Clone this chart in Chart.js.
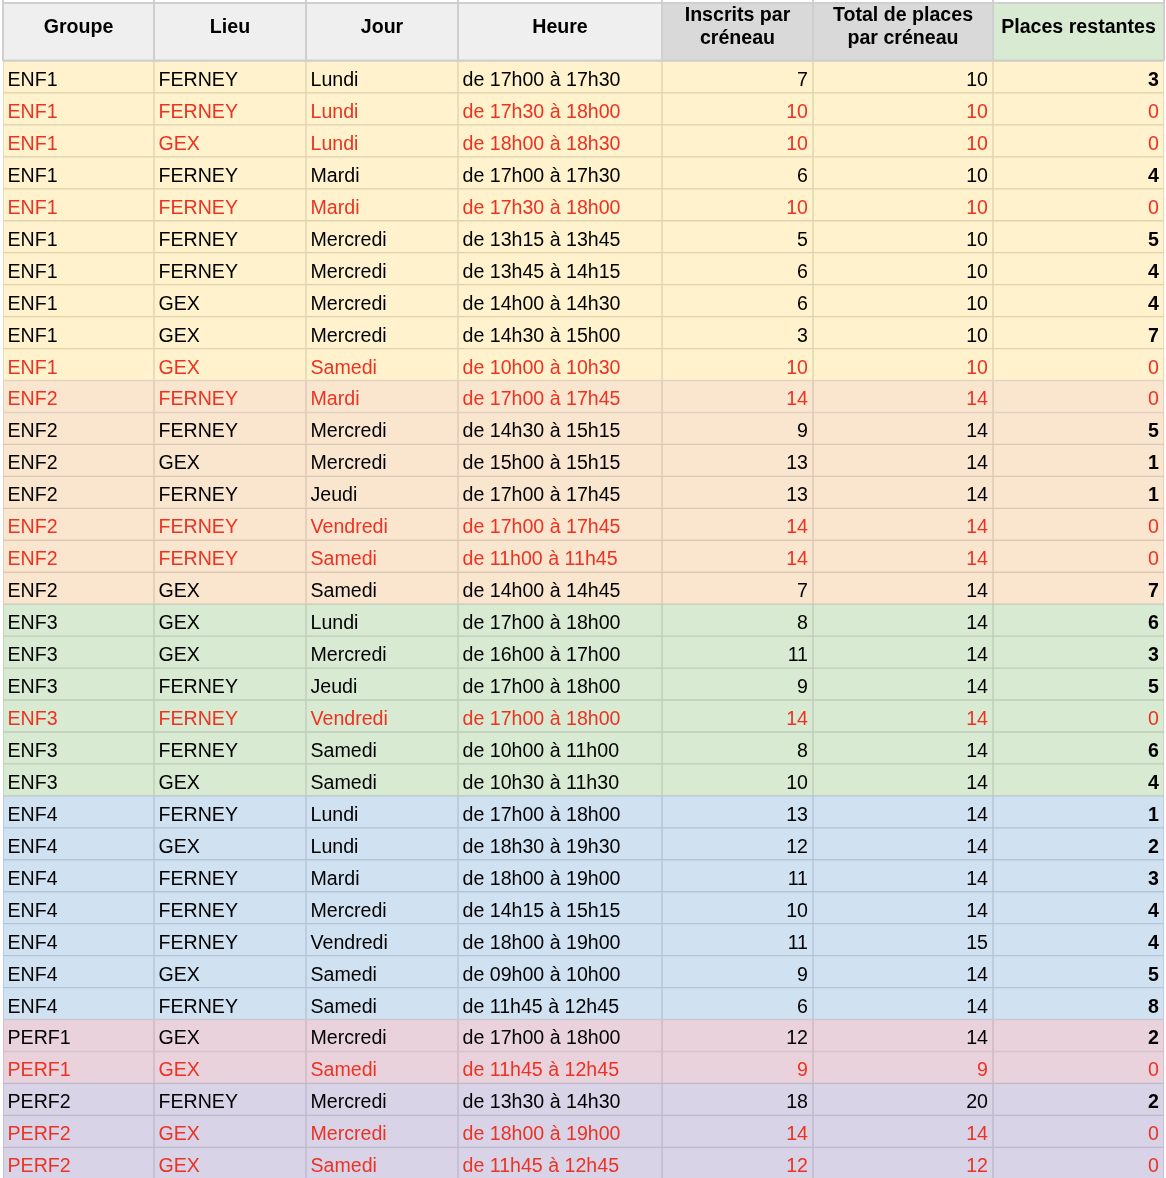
<!DOCTYPE html>
<html>
<head>
<meta charset="utf-8">
<script src="https://cdn.jsdelivr.net/npm/chart.js@4.4.1/dist/chart.umd.min.js"></script>
<style>
  html, body { margin: 0; padding: 0; background: #ffffff; }
  canvas { display: block; }
</style>
</head>
<body>
<canvas id="c" width="1166" height="1178"></canvas>
<script>
// ---------- DATA ----------
const headers = [['Groupe'], ['Lieu'], ['Jour'], ['Heure'], ['Inscrits par', 'créneau'], ['Total de places', 'par créneau'], ['Places restantes']];

const groupes = ['ENF1','ENF1','ENF1','ENF1','ENF1','ENF1','ENF1','ENF1','ENF1','ENF1',
  'ENF2','ENF2','ENF2','ENF2','ENF2','ENF2','ENF2',
  'ENF3','ENF3','ENF3','ENF3','ENF3','ENF3',
  'ENF4','ENF4','ENF4','ENF4','ENF4','ENF4','ENF4',
  'PERF1','PERF1',
  'PERF2','PERF2','PERF2'];

const lieux = ['FERNEY','FERNEY','GEX','FERNEY','FERNEY','FERNEY','FERNEY','GEX','GEX','GEX',
  'FERNEY','FERNEY','GEX','FERNEY','FERNEY','FERNEY','GEX',
  'GEX','GEX','FERNEY','FERNEY','FERNEY','GEX',
  'FERNEY','GEX','FERNEY','FERNEY','FERNEY','GEX','FERNEY',
  'GEX','GEX',
  'FERNEY','GEX','GEX'];

const jours = ['Lundi','Lundi','Lundi','Mardi','Mardi','Mercredi','Mercredi','Mercredi','Mercredi','Samedi',
  'Mardi','Mercredi','Mercredi','Jeudi','Vendredi','Samedi','Samedi',
  'Lundi','Mercredi','Jeudi','Vendredi','Samedi','Samedi',
  'Lundi','Lundi','Mardi','Mercredi','Vendredi','Samedi','Samedi',
  'Mercredi','Samedi',
  'Mercredi','Mercredi','Samedi'];

const heures = ['de 17h00 à 17h30','de 17h30 à 18h00','de 18h00 à 18h30','de 17h00 à 17h30','de 17h30 à 18h00',
  'de 13h15 à 13h45','de 13h45 à 14h15','de 14h00 à 14h30','de 14h30 à 15h00','de 10h00 à 10h30',
  'de 17h00 à 17h45','de 14h30 à 15h15','de 15h00 à 15h15','de 17h00 à 17h45','de 17h00 à 17h45',
  'de 11h00 à 11h45','de 14h00 à 14h45',
  'de 17h00 à 18h00','de 16h00 à 17h00','de 17h00 à 18h00','de 17h00 à 18h00','de 10h00 à 11h00','de 10h30 à 11h30',
  'de 17h00 à 18h00','de 18h30 à 19h30','de 18h00 à 19h00','de 14h15 à 15h15','de 18h00 à 19h00',
  'de 09h00 à 10h00','de 11h45 à 12h45',
  'de 17h00 à 18h00','de 11h45 à 12h45',
  'de 13h30 à 14h30','de 18h00 à 19h00','de 11h45 à 12h45'];

const inscrits = [7,10,10,6,10,5,6,6,3,10,
  14,9,13,13,14,14,7,
  8,11,9,14,8,10,
  13,12,11,10,11,9,6,
  12,9,
  18,14,12];

const totalPlaces = [10,10,10,10,10,10,10,10,10,10,
  14,14,14,14,14,14,14,
  14,14,14,14,14,14,
  14,14,14,14,15,14,14,
  14,9,
  20,14,12];

const restantes = [3,0,0,4,0,5,4,4,7,0,
  0,5,1,1,0,0,7,
  6,3,5,0,6,4,
  1,2,3,4,4,5,8,
  2,0,
  2,0,0];

// ---------- LAYOUT / STYLE ----------
const colWidths = [151, 152, 152, 204, 151, 180, 171];
const groupFill = { ENF1: '#fff2cc', ENF2: '#fae5cf', ENF3: '#d9ead3', ENF4: '#d0e1f2', PERF1: '#e9d2dc', PERF2: '#d9d3e8' };
const headerFill = ['#efefef', '#efefef', '#efefef', '#efefef', '#d9d9d9', '#d9d9d9', '#d9ead3'];
const RED = '#ea3323';
const FONT = '"Liberation Sans", Arial, Helvetica, sans-serif';
const FSIZE = '19.6px ';
const Y_MIN = -0.5, Y_MAX = 34.46;

function darken(hex, f) {
  const n = parseInt(hex.slice(1), 16);
  const r = Math.round(((n >> 16) & 255) * f), g = Math.round(((n >> 8) & 255) * f), b = Math.round((n & 255) * f);
  return 'rgb(' + r + ',' + g + ',' + b + ')';
}

const rowIdx = groupes.map((_, i) => i);
const fills = groupes.map(g => groupFill[g]);
const borders = groupes.map(g => darken(groupFill[g], 0.87));

const datasets = colWidths.map((w, k) => ({
  label: headers[k].join(' '),
  data: rowIdx.map(i => ({ x: w, y: i })),
  backgroundColor: fills,
  borderColor: borders,
  borderWidth: 1,
  borderSkipped: false,
  categoryPercentage: 1,
  barPercentage: 1
}));

const colBounds = [0];
colWidths.forEach(w => colBounds.push(colBounds[colBounds.length - 1] + w));
const totalWidth = colBounds[colBounds.length - 1];

const tablePlugin = {
  id: 'tableText',
  afterDatasetsDraw(chart) {
    const ctx = chart.ctx;
    const xs = chart.scales.x, ys = chart.scales.y;
    const top = 3, bottom = chart.chartArea.top;
    const px = colBounds.map(v => xs.getPixelForValue(v));
    ctx.save();
    // header cells
    for (let k = 0; k < colWidths.length; k++) {
      ctx.fillStyle = headerFill[k];
      ctx.fillRect(px[k], top, px[k + 1] - px[k], bottom - top);
    }
    ctx.strokeStyle = '#cfcfcf';
    ctx.lineWidth = 2;
    ctx.beginPath();
    ctx.moveTo(px[0], top); ctx.lineTo(px[px.length - 1], top);
    ctx.moveTo(px[0], bottom - 0.5); ctx.lineTo(px[px.length - 1], bottom - 0.5);
    for (let k = 0; k < px.length; k++) {
      ctx.moveTo(px[k], 0); ctx.lineTo(px[k], bottom);
    }
    ctx.stroke();
    // header text
    ctx.fillStyle = '#000000';
    ctx.font = 'bold ' + FSIZE + FONT;
    ctx.textAlign = 'center';
    ctx.textBaseline = 'alphabetic';
    for (let k = 0; k < headers.length; k++) {
      const cx = (px[k] + px[k + 1]) / 2;
      const lines = headers[k];
      if (lines.length === 1) {
        ctx.fillText(lines[0], cx, 33);
      } else {
        ctx.fillText(lines[0], cx, 21);
        ctx.fillText(lines[1], cx, 44);
      }
    }
    // body text
    const cols = [groupes, lieux, jours, heures, inscrits, totalPlaces, restantes];
    for (let i = 0; i < rowIdx.length; i++) {
      const yc = ys.getPixelForValue(i);
      const base = yc + 9;
      const full = restantes[i] === 0;
      const color = full ? RED : '#000000';
      for (let k = 0; k < cols.length; k++) {
        const txt = String(cols[k][i]);
        const bold = (k === 6 && !full);
        ctx.font = (bold ? 'bold ' : '') + FSIZE + FONT;
        ctx.fillStyle = color;
        if (k < 4) {
          ctx.textAlign = 'left';
          ctx.fillText(txt, px[k] + 4.5, base);
        } else {
          ctx.textAlign = 'right';
          ctx.fillText(txt, px[k + 1] - 5, base);
        }
      }
    }
    ctx.restore();
  }
};

new Chart(document.getElementById('c'), {
  type: 'bar',
  data: { datasets },
  options: {
    indexAxis: 'y',
    responsive: false,
    animation: false,
    events: [],
    layout: { padding: { top: 61, bottom: 0, left: 3, right: 2 } },
    plugins: { legend: { display: false }, tooltip: { enabled: false } },
    scales: {
      x: {
        type: 'linear', stacked: true, min: 0, max: totalWidth, display: false, bounds: 'data', offset: false,
        grid: { display: false, offset: false },
        afterBuildTicks: (scale) => { scale.min = 0; scale.max = totalWidth; }
      },
      y: {
        type: 'linear', stacked: true, reverse: true, min: Y_MIN, max: Y_MAX, display: false, bounds: 'data', offset: false,
        grid: { display: false, offset: false },
        afterBuildTicks: (scale) => {
          scale.ticks = rowIdx.map(v => ({ value: v }));
          scale.min = Y_MIN; scale.max = Y_MAX;
        }
      }
    }
  },
  plugins: [tablePlugin]
});
</script>
</body>
</html>
